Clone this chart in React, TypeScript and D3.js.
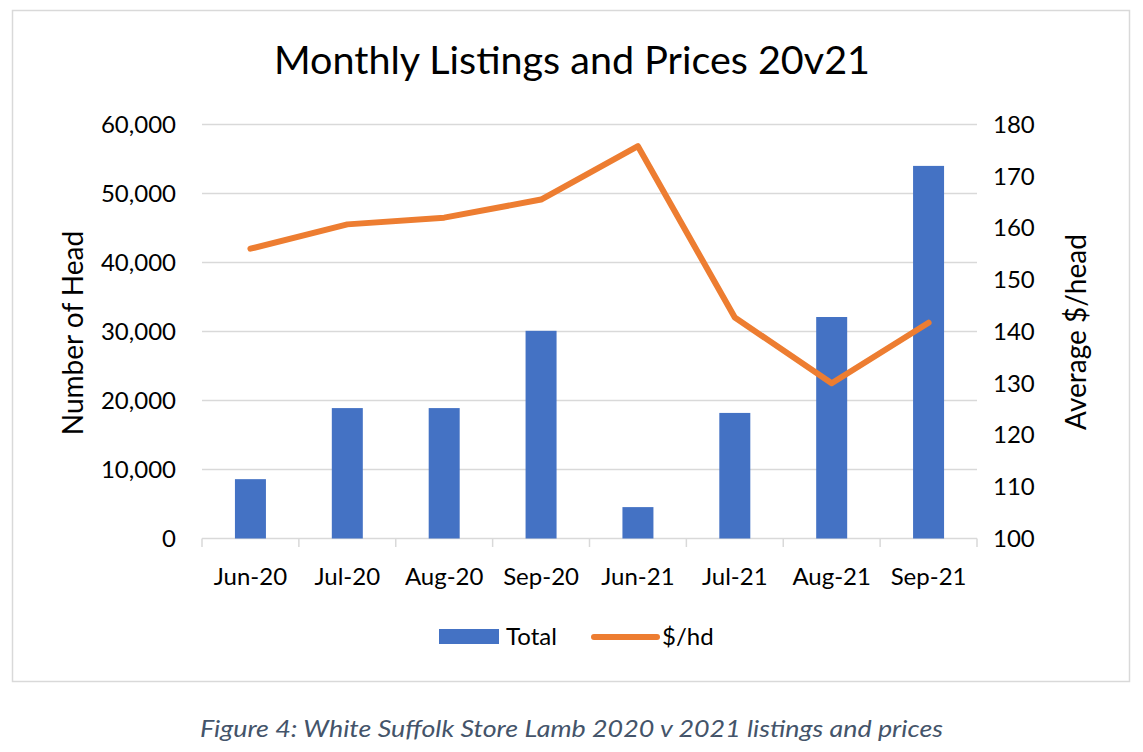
import React from 'react';
import * as d3 from 'd3';

// chart data
const months = ['Jun-20', 'Jul-20', 'Aug-20', 'Sep-20', 'Jun-21', 'Jul-21', 'Aug-21', 'Sep-21'];
const totals = [8600, 18900, 18900, 30100, 4550, 18200, 32100, 54000];
const pricePerHead = [156.0, 160.7, 162.0, 165.5, 175.8, 142.7, 130.0, 141.7];
const leftTicks = [0, 10000, 20000, 30000, 40000, 50000, 60000];
const rightTicks = [100, 110, 120, 130, 140, 150, 160, 170, 180];

const W = 1143;
const H = 752;
const font = 'Lato, "Open Sans", sans-serif';
const blue = '#4472C4';
const orange = '#ED7D31';
const grid = '#D9D9D9';

const App: React.FC = () => {
  const x = d3.scaleBand<string>().domain(months).range([202, 977]).paddingInner(0).paddingOuter(0);
  const yL = d3.scaleLinear().domain([0, 60000]).range([538.5, 124.5]);
  const yR = d3.scaleLinear().domain([100, 180]).range([538.5, 124.5]);
  const barW = x.bandwidth() * 0.32;
  const fmt = d3.format(',');

  const line = d3.line<number>()
    .x((_, i) => (x(months[i]) as number) + x.bandwidth() / 2)
    .y(d => yR(d));

  return (
    <svg width={W} height={H} style={{ display: 'block', position: 'absolute', left: 0, top: 0 }}>
      <rect x={0} y={0} width={W} height={H} fill="#fff" />
      <rect x={12.5} y={10.5} width={1117} height={671} fill="#fff" stroke={grid} strokeWidth={1.5} />

      <text x={572} y={74} textAnchor="middle" fontFamily={font} fontSize={39.5} fill="#000">
        Monthly Listings and Prices 20v21
      </text>

      {/* gridlines */}
      {leftTicks.map(t => (
        <line key={t} x1={202} x2={977} y1={yL(t)} y2={yL(t)} stroke={grid} strokeWidth={1.5} />
      ))}

      {/* category ticks */}
      {months.map(m => (
        <line key={m} x1={(x(m) as number)} x2={(x(m) as number)} y1={538.5} y2={547} stroke={grid} strokeWidth={1.5} />
      ))}
      <line x1={977} x2={977} y1={538.5} y2={547} stroke={grid} strokeWidth={1.5} />

      {/* bars */}
      {totals.map((v, i) => (
        <rect key={months[i]}
          x={(x(months[i]) as number) + (x.bandwidth() - barW) / 2}
          y={yL(v)}
          width={barW}
          height={yL(0) - yL(v)}
          fill={blue} />
      ))}

      {/* price line */}
      <path d={line(pricePerHead) as string} fill="none" stroke={orange} strokeWidth={6}
        strokeLinejoin="round" strokeLinecap="round" />

      {/* left axis labels */}
      {leftTicks.map(t => (
        <text key={t} x={176} y={yL(t)} dy="0.35em" textAnchor="end" fontFamily={font} fontSize={24} fill="#000">
          {fmt(t)}
        </text>
      ))}
      {/* right axis labels */}
      {rightTicks.map(t => (
        <text key={t} x={993} y={yR(t)} dy="0.35em" textAnchor="start" fontFamily={font} fontSize={24} fill="#000">
          {t}
        </text>
      ))}
      {/* x labels */}
      {months.map(m => (
        <text key={m} x={(x(m) as number) + x.bandwidth() / 2} y={585} textAnchor="middle" fontFamily={font} fontSize={24} fill="#000">
          {m}
        </text>
      ))}

      {/* axis titles */}
      <text transform="translate(83,333) rotate(-90)" textAnchor="middle" fontFamily={font} fontSize={28} fill="#000">
        Number of Head
      </text>
      <text transform="translate(1086,332) rotate(-90)" textAnchor="middle" fontFamily={font} fontSize={28} fill="#000">
        Average $/head
      </text>

      {/* legend */}
      <rect x={439} y={629} width={60} height={15} fill={blue} />
      <text x={506} y={645} fontFamily={font} fontSize={24} fill="#000">Total</text>
      <line x1={594} x2={657} y1={637} y2={637} stroke={orange} strokeWidth={6} strokeLinecap="round" />
      <text x={662} y={645} fontFamily={font} fontSize={24} fill="#000">$/hd</text>

      {/* caption */}
      <text x={200} y={737} textLength={743} lengthAdjust="spacingAndGlyphs" fontFamily={font} fontStyle="italic" fontSize={24} fill="#44546A">
        Figure 4: White Suffolk Store Lamb 2020 v 2021 listings and prices
      </text>
    </svg>
  );
};

export default App;
